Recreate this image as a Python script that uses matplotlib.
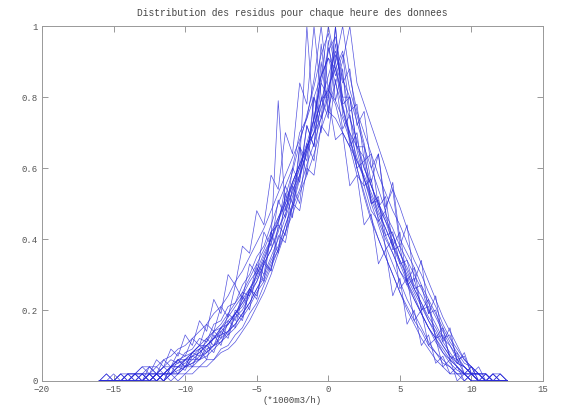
import matplotlib
matplotlib.use("Agg")
import matplotlib.pyplot as plt
from matplotlib.ticker import FormatStrFormatter

# bin centres of the residual histograms (*1000 m3/h)
bins = [-16, -15.5, -15, -14.5, -14, -13.5, -13, -12.5, -12, -11.5,
        -11, -10.5, -10, -9.5, -9, -8.5, -8, -7.5, -7, -6.5,
        -6, -5.5, -5, -4.5, -4, -3.5, -3, -2.5, -2, -1.5,
        -1, -0.5, 0, 0.5, 1, 1.5, 2, 2.5, 3, 3.5,
        4, 4.5, 5, 5.5, 6, 6.5, 7, 7.5, 8, 8.5,
        9, 9.5, 10, 10.5, 11, 11.5, 12, 12.5]

# one normalised residual distribution per hour
h01 = [0, 0, 0, 0, 0, 0.02, 0, 0.02, 0.02, 0,
       0.04, 0.06, 0.04, 0.08, 0.10, 0.08, 0.14, 0.12, 0.19, 0.17,
       0.25, 0.24, 0.33, 0.30, 0.42, 0.44, 0.55, 0.50, 0.66, 0.62,
       0.80, 0.74, 0.96, 0.79, 0.88, 0.66, 0.70, 0.55, 0.57, 0.45,
       0.48, 0.37, 0.38, 0.27, 0.29, 0.20, 0.21, 0.12, 0.13, 0.07,
       0.06, 0.02, 0.04, 0, 0.02, 0, 0, 0]
h02 = [0, 0, 0, 0.02, 0, 0.02, 0.02, 0.04, 0.02, 0.04,
       0.06, 0.05, 0.08, 0.09, 0.12, 0.11, 0.16, 0.17, 0.21, 0.22,
       0.27, 0.30, 0.35, 0.38, 0.44, 0.50, 0.55, 0.60, 0.70, 0.74,
       0.85, 1.00, 0.82, 0.78, 0.70, 0.66, 0.58, 0.55, 0.48, 0.45,
       0.40, 0.36, 0.31, 0.28, 0.23, 0.19, 0.15, 0.12, 0.08, 0.06,
       0.04, 0.02, 0.02, 0, 0, 0, 0, 0]
h03 = [0, 0, 0, 0, 0, 0, 0.02, 0, 0.02, 0.02,
       0.02, 0.04, 0.06, 0.06, 0.08, 0.10, 0.12, 0.14, 0.16, 0.19,
       0.22, 0.25, 0.30, 0.34, 0.40, 0.79, 0.48, 0.56, 0.61, 0.67,
       0.74, 0.86, 0.91, 0.88, 0.80, 0.74, 0.68, 0.60, 0.55, 0.50,
       0.45, 0.41, 0.36, 0.32, 0.27, 0.24, 0.20, 0.16, 0.12, 0.10,
       0.06, 0.04, 0.02, 0.02, 0, 0, 0, 0]
h04 = [0, 0, 0, 0, 0, 0, 0, 0, 0.02, 0,
       0.02, 0.04, 0.04, 0.06, 0.06, 0.09, 0.10, 0.13, 0.14, 0.18,
       0.20, 0.24, 0.28, 0.33, 0.37, 0.42, 0.49, 0.53, 0.60, 0.66,
       0.72, 0.79, 0.86, 0.93, 0.85, 0.80, 0.73, 0.66, 0.60, 0.54,
       0.48, 0.56, 0.40, 0.36, 0.32, 0.27, 0.23, 0.19, 0.15, 0.11,
       0.08, 0.05, 0.04, 0.02, 0.02, 0, 0.02, 0]
h05 = [0, 0.02, 0, 0, 0.02, 0.02, 0, 0.04, 0.02, 0.06,
       0.04, 0.08, 0.07, 0.12, 0.10, 0.16, 0.14, 0.21, 0.18, 0.27,
       0.23, 0.33, 0.30, 0.42, 0.38, 0.51, 0.46, 0.60, 0.56, 0.72,
       0.66, 0.84, 0.80, 0.95, 0.80, 0.80, 0.66, 0.66, 0.50, 0.52,
       0.37, 0.40, 0.26, 0.29, 0.17, 0.20, 0.10, 0.12, 0.04, 0.06,
       0, 0.02, 0, 0, 0, 0, 0, 0]
h06 = [0, 0, 0, 0, 0, 0, 0, 0, 0, 0.02,
       0, 0.02, 0.02, 0.04, 0.04, 0.06, 0.06, 0.09, 0.10, 0.13,
       0.15, 0.19, 0.22, 0.27, 0.32, 0.37, 0.44, 0.50, 0.58, 0.65,
       0.74, 0.86, 1.00, 0.90, 0.78, 0.69, 0.60, 0.53, 0.46, 0.40,
       0.35, 0.30, 0.25, 0.21, 0.17, 0.14, 0.10, 0.08, 0.05, 0.04,
       0.02, 0.02, 0, 0, 0, 0, 0, 0]
h07 = [0, 0, 0, 0, 0.02, 0, 0.02, 0, 0.02, 0.04,
       0.02, 0.06, 0.04, 0.08, 0.07, 0.12, 0.10, 0.15, 0.13, 0.20,
       0.18, 0.26, 0.24, 0.33, 0.31, 0.41, 0.39, 0.50, 0.48, 0.60,
       0.58, 0.72, 0.69, 0.85, 0.71, 0.75, 0.60, 0.62, 0.50, 0.51,
       0.41, 0.42, 0.33, 0.34, 0.26, 0.27, 0.19, 0.20, 0.12, 0.13,
       0.06, 0.07, 0.02, 0.02, 0, 0.02, 0, 0]
h08 = [0, 0, 0, 0, 0, 0, 0, 0.02, 0, 0.02,
       0.02, 0.03, 0.04, 0.05, 0.07, 0.08, 0.10, 0.12, 0.14, 0.16,
       0.19, 0.22, 0.26, 0.29, 0.34, 0.38, 0.44, 0.49, 0.54, 0.61,
       0.67, 0.74, 0.82, 0.90, 1.00, 0.86, 0.76, 0.70, 0.64, 0.58,
       0.53, 0.48, 0.44, 0.39, 0.34, 0.30, 0.25, 0.21, 0.16, 0.12,
       0.09, 0.06, 0.04, 0.02, 0.02, 0, 0.02, 0]
h09 = [0, 0, 0.02, 0, 0.02, 0.02, 0.04, 0.02, 0.06, 0.04,
       0.09, 0.07, 0.13, 0.10, 0.17, 0.14, 0.23, 0.19, 0.30, 0.27,
       0.38, 0.36, 0.48, 0.44, 0.58, 0.54, 0.70, 0.64, 0.84, 0.78,
       1.00, 0.80, 0.80, 0.68, 0.70, 0.55, 0.58, 0.44, 0.47, 0.33,
       0.37, 0.24, 0.29, 0.16, 0.20, 0.10, 0.13, 0.05, 0.07, 0.02,
       0.04, 0, 0.02, 0, 0, 0, 0, 0]
h10 = [0, 0, 0, 0, 0, 0.02, 0, 0.02, 0.02, 0.02,
       0.04, 0.04, 0.06, 0.07, 0.09, 0.10, 0.12, 0.15, 0.17, 0.19,
       0.23, 0.26, 0.30, 0.35, 0.40, 0.45, 0.50, 0.56, 0.61, 1.00,
       0.72, 0.79, 0.82, 0.79, 0.74, 0.68, 0.62, 0.57, 0.52, 0.47,
       0.43, 0.38, 0.34, 0.30, 0.26, 0.22, 0.18, 0.15, 0.11, 0.08,
       0.05, 0.04, 0.02, 0.02, 0, 0, 0, 0]
h11 = [0, 0, 0, 0, 0, 0, 0, 0, 0.02, 0,
       0.02, 0.02, 0.04, 0.04, 0.06, 0.07, 0.09, 0.11, 0.13, 0.15,
       0.18, 0.21, 0.25, 0.28, 0.33, 0.37, 0.42, 0.47, 0.53, 0.58,
       0.64, 0.71, 0.77, 0.84, 0.90, 1.00, 0.84, 0.78, 0.72, 0.66,
       0.60, 0.54, 0.49, 0.43, 0.38, 0.33, 0.28, 0.23, 0.18, 0.14,
       0.10, 0.06, 0.04, 0.02, 0, 0.02, 0, 0]
h12 = [0, 0, 0, 0, 0, 0.02, 0.02, 0, 0.02, 0.04,
       0.04, 0.06, 0.07, 0.08, 0.10, 0.12, 0.14, 0.16, 0.19, 0.22,
       0.25, 0.29, 0.33, 0.37, 0.42, 0.46, 0.51, 0.56, 0.61, 0.66,
       0.70, 0.95, 0.76, 0.74, 0.70, 0.66, 0.62, 0.58, 0.53, 0.48,
       0.43, 0.38, 0.33, 0.28, 0.24, 0.19, 0.15, 0.12, 0.09, 0.06,
       0.04, 0.02, 0.02, 0, 0, 0, 0, 0]
h13 = [0, 0.02, 0, 0.02, 0, 0.02, 0.02, 0.02, 0.04, 0.02,
       0.04, 0.06, 0.06, 0.08, 0.10, 0.10, 0.12, 0.15, 0.16, 0.19,
       0.22, 0.26, 0.29, 0.34, 0.39, 0.45, 0.52, 0.59, 0.67, 0.75,
       0.83, 0.92, 0.98, 0.88, 0.77, 0.68, 0.60, 0.52, 0.45, 0.40,
       0.35, 0.30, 0.25, 0.20, 0.16, 0.12, 0.09, 0.06, 0.04, 0.02,
       0.02, 0, 0.02, 0, 0, 0, 0, 0]
h14 = [0, 0, 0, 0, 0, 0, 0, 0, 0, 0.02,
       0.02, 0.02, 0.04, 0.05, 0.06, 0.08, 0.10, 0.11, 0.14, 0.16,
       0.19, 0.22, 0.26, 0.30, 0.35, 0.40, 0.46, 0.52, 0.58, 0.64,
       0.70, 0.77, 0.83, 0.88, 0.93, 0.82, 0.75, 0.67, 0.56, 0.64,
       0.47, 0.43, 0.38, 0.34, 0.30, 0.26, 0.22, 0.18, 0.14, 0.10,
       0.07, 0.04, 0.02, 0.02, 0.02, 0, 0, 0]
h15 = [0, 0, 0, 0, 0, 0, 0.02, 0.02, 0, 0.02,
       0.04, 0.04, 0.05, 0.07, 0.08, 0.10, 0.12, 0.13, 0.16, 0.19,
       0.21, 0.25, 0.28, 0.33, 0.37, 0.43, 0.47, 0.54, 0.58, 0.72,
       0.66, 0.90, 0.75, 1.00, 0.78, 0.80, 0.66, 0.63, 0.55, 0.49,
       0.45, 0.39, 0.34, 0.29, 0.25, 0.21, 0.17, 0.13, 0.10, 0.07,
       0.05, 0.04, 0.02, 0.02, 0, 0.02, 0, 0]
h16 = [0, 0, 0, 0.02, 0.02, 0.02, 0.04, 0.04, 0.04, 0.06,
       0.07, 0.09, 0.10, 0.12, 0.14, 0.16, 0.19, 0.21, 0.24, 0.28,
       0.31, 0.35, 0.39, 0.43, 0.48, 0.53, 0.58, 0.63, 0.68, 0.74,
       0.80, 0.86, 0.91, 0.84, 0.77, 0.70, 0.63, 0.57, 0.51, 0.46,
       0.41, 0.36, 0.31, 0.27, 0.23, 0.19, 0.15, 0.11, 0.08, 0.05,
       0.03, 0.02, 0, 0, 0, 0, 0, 0]
h17 = [0, 0, 0, 0, 0, 0, 0, 0, 0, 0,
       0.02, 0, 0.02, 0.02, 0.04, 0.04, 0.06, 0.08, 0.09, 0.11,
       0.14, 0.17, 0.21, 0.25, 0.30, 0.36, 0.42, 0.49, 0.57, 0.65,
       0.74, 0.84, 0.93, 0.97, 0.86, 0.75, 0.65, 0.57, 0.50, 0.44,
       0.38, 0.33, 0.28, 0.23, 0.19, 0.15, 0.11, 0.08, 0.06, 0.04,
       0.02, 0.02, 0, 0, 0, 0, 0, 0]
h18 = [0, 0, 0, 0, 0, 0, 0, 0.02, 0, 0.02,
       0.02, 0.04, 0.03, 0.07, 0.06, 0.10, 0.08, 0.14, 0.12, 0.19,
       0.17, 0.26, 0.23, 0.34, 0.31, 0.44, 0.41, 0.55, 0.50, 0.67,
       0.62, 0.80, 0.74, 0.92, 0.84, 0.88, 0.72, 0.76, 0.60, 0.64,
       0.49, 0.54, 0.38, 0.44, 0.28, 0.34, 0.19, 0.24, 0.11, 0.15,
       0.05, 0.08, 0.02, 0.04, 0, 0.02, 0.02, 0]
h19 = [0, 0, 0, 0, 0.02, 0, 0, 0.02, 0.02, 0.02,
       0.04, 0.05, 0.06, 0.08, 0.09, 0.11, 0.14, 0.15, 0.18, 0.21,
       0.24, 0.28, 0.31, 0.36, 0.40, 0.46, 0.50, 0.55, 0.60, 0.66,
       0.70, 0.74, 0.80, 1.00, 0.75, 0.70, 0.66, 0.60, 0.55, 0.50,
       0.46, 0.41, 0.36, 0.31, 0.26, 0.22, 0.17, 0.14, 0.10, 0.07,
       0.04, 0.02, 0.02, 0, 0, 0, 0, 0]
h20 = [0, 0, 0, 0, 0, 0, 0, 0, 0.02, 0,
       0.04, 0.02, 0.06, 0.04, 0.09, 0.06, 0.13, 0.10, 0.17, 0.15,
       0.24, 0.20, 0.32, 0.28, 0.42, 0.36, 0.53, 0.46, 0.66, 0.58,
       0.80, 0.70, 0.94, 0.86, 0.92, 0.76, 0.78, 0.62, 0.64, 0.49,
       0.52, 0.38, 0.42, 0.28, 0.32, 0.20, 0.23, 0.12, 0.15, 0.06,
       0.08, 0.02, 0.04, 0, 0.02, 0, 0, 0]

hours = [h01, h02, h03, h04, h05, h06, h07, h08, h09, h10,
         h11, h12, h13, h14, h15, h16, h17, h18, h19, h20]

xticks = [-20, -15, -10, -5, 0, 5, 10, 15]
yticks = [0, 0.2, 0.4, 0.6, 0.8, 1]

plt.rcParams['font.family'] = ['Liberation Mono', 'DejaVu Sans Mono']

fig = plt.figure(figsize=(5.63, 4.09), dpi=100)
ax = fig.add_axes([0.0746, 0.0685, 0.89, 0.8675])

for h in hours:
    ax.plot(bins, h, color='#2a2ad8', lw=0.5, alpha=0.8)

ax.set_xlim(-20, 15)
ax.set_ylim(0, 1)
ax.set_xticks(xticks)
ax.set_yticks(yticks)
ax.yaxis.set_major_formatter(FormatStrFormatter('%g'))
ax.tick_params(direction='in', top=True, right=True, length=4, width=0.6,
               colors='#888888', labelcolor='#555555', labelsize=6.5, pad=3)
for s in ax.spines.values():
    s.set_color('#999999')
    s.set_linewidth(0.7)

ax.set_title('Distribution des residus pour chaque heure des donnees',
             fontsize=6.9, color='#444444', pad=7)
ax.set_xlabel('(*1000m3/h)', fontsize=6.5, color='#444444', labelpad=1)

fig.savefig('out.png', dpi=100)
